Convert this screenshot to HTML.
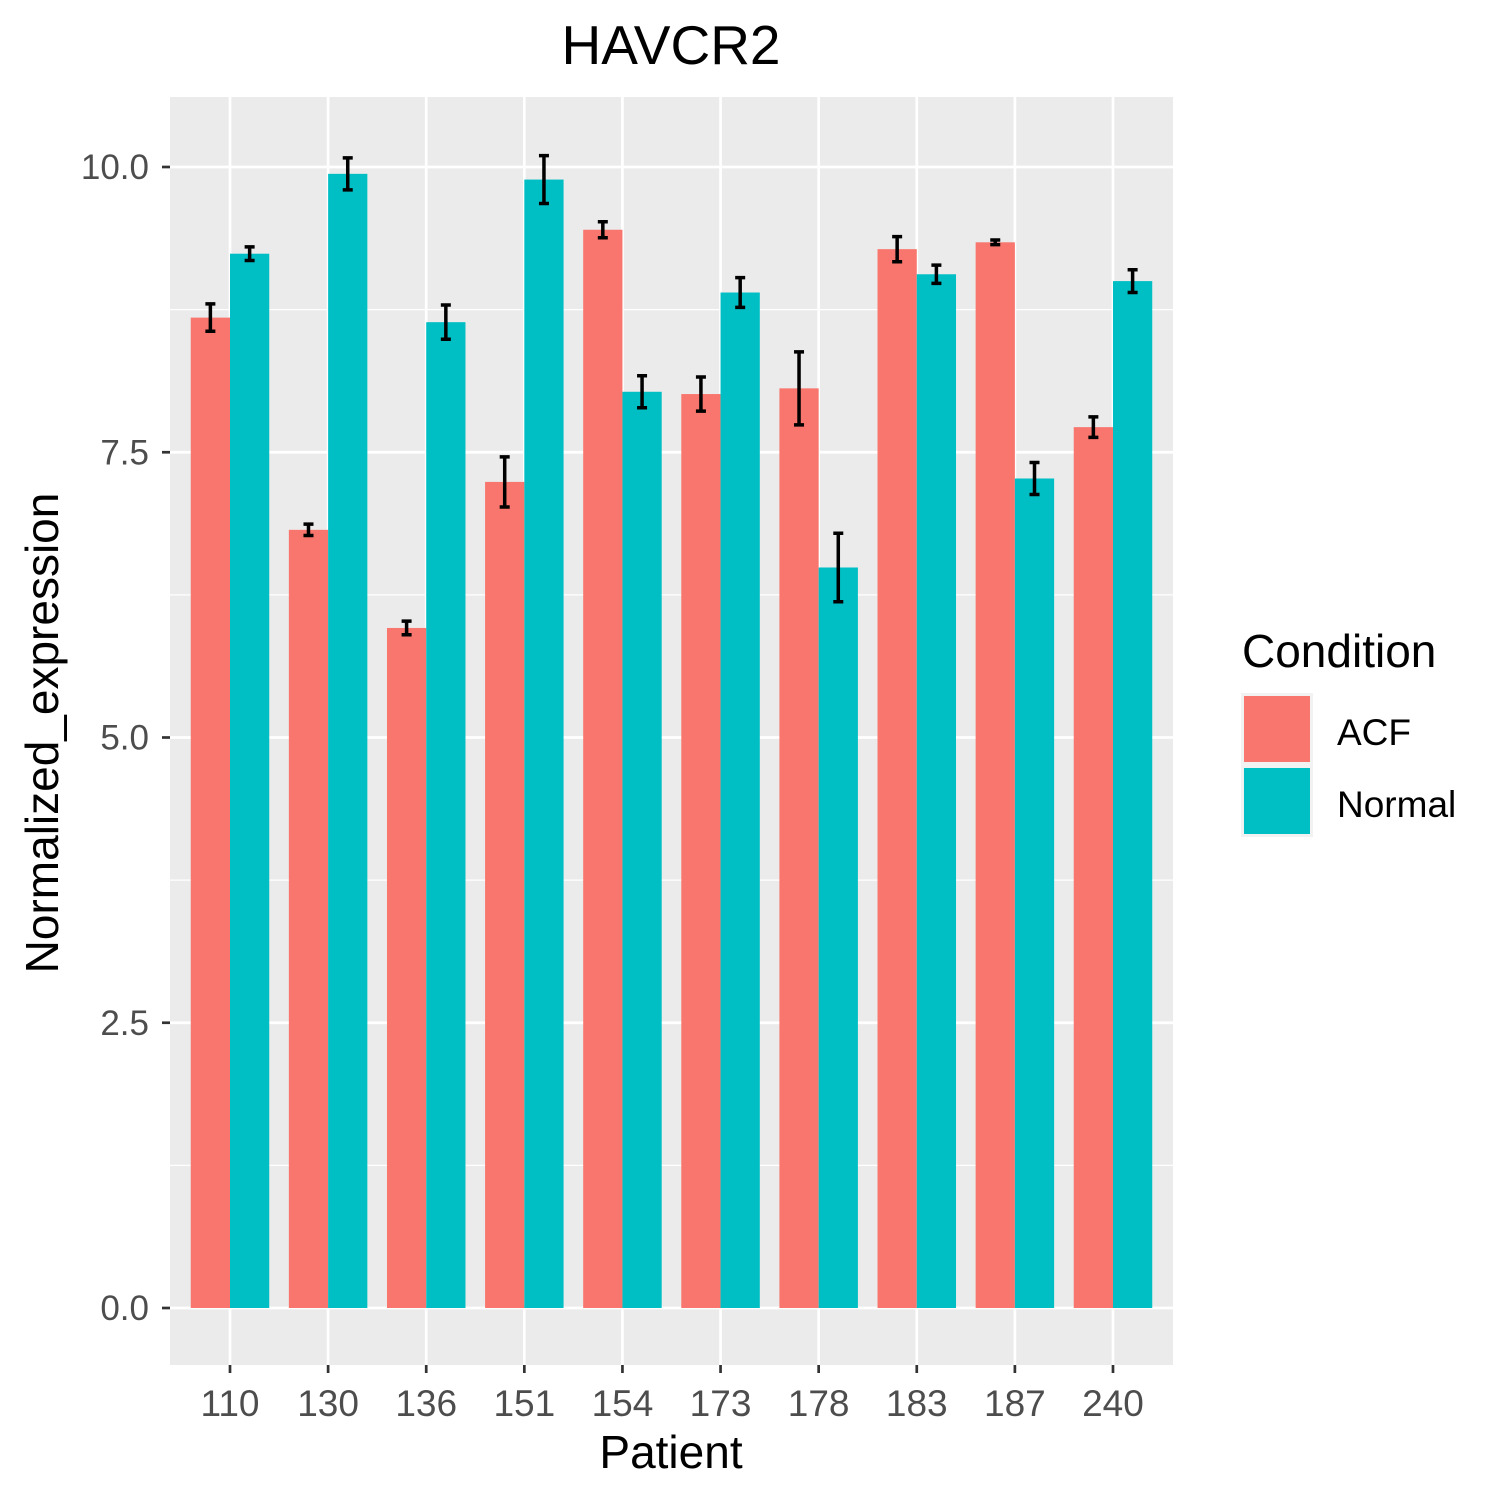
<!DOCTYPE html>
<html><head><meta charset="utf-8"><style>body{margin:0;background:#fff}svg{display:block}text{font-family:"Liberation Sans",Arial,sans-serif}</style></head>
<body>
<svg id="c" width="1500" height="1500" xmlns="http://www.w3.org/2000/svg">
<text x="671" y="64" font-size="55" text-anchor="middle">HAVCR2</text>
<rect x="170" y="97" width="1003" height="1268" fill="#ebebeb"/>
<g id="grid"></g><g id="bars"></g><g id="axes"></g>
<text x="671" y="1468" font-size="46" text-anchor="middle">Patient</text>
<text transform="translate(58,733) rotate(-90)" font-size="46" text-anchor="middle">Normalized_expression</text>
<g>
<text x="1242" y="667" font-size="46">Condition</text>
<rect x="1241" y="693" width="72" height="144" fill="#f2f2f2"/>
<rect x="1244" y="696" width="66" height="66" fill="#F8766D"/>
<rect x="1244" y="768" width="66" height="66" fill="#00BFC4"/>
<text x="1337" y="745" font-size="37">ACF</text>
<text x="1337" y="817" font-size="37">Normal</text>
</g>
</svg>
<script>
const categories=["110","130","136","151","154","173","178","183","187","240"];
const acfValues=[8.68,6.82,5.96,7.24,9.45,8.01,8.06,9.28,9.34,7.72];
const acfErr=[0.12,0.05,0.06,0.22,0.07,0.15,0.32,0.11,0.02,0.09];
const normalValues=[9.24,9.94,8.64,9.89,8.03,8.90,6.49,9.06,7.27,9.00];
const normalErr=[0.06,0.14,0.15,0.21,0.14,0.13,0.30,0.08,0.14,0.10];
const yTicks=[0,2.5,5,7.5,10];
const yTickLabels=["0.0","2.5","5.0","7.5","10.0"];
const NS="http://www.w3.org/2000/svg";
const y=v=>1308-v*114.1;
const x=i=>230+i*98.11;
const bw=39.25;
function mk(p,t,a){const e=document.createElementNS(NS,t);for(const k in a)e.setAttribute(k,a[k]);p.appendChild(e);return e;}
const G=document.getElementById('grid'),B=document.getElementById('bars'),A=document.getElementById('axes');
yTicks.forEach((t,i)=>{
 if(i<yTicks.length-1){const m=mk(G,'line',{x1:170,x2:1173,y1:y(t+1.25),y2:y(t+1.25),stroke:'#fff','stroke-width':1.3});
 
 }
 const l=mk(G,'line',{x1:170,x2:1173,y1:y(t),y2:y(t),stroke:'#fff','stroke-width':2.7});
 
 
 const k=mk(A,'line',{x1:162,x2:170,y1:y(t),y2:y(t),stroke:'#333','stroke-width':2.7});
 
 
 const tx=mk(A,'text',{x:149,y:y(t)+12,'font-size':35,fill:'#4d4d4d','text-anchor':'end'});
 tx.textContent=yTickLabels[i];
 
 
});
categories.forEach((c,i)=>{
 const g=mk(G,'line',{x1:x(i),x2:x(i),y1:97,y2:1365,stroke:'#fff','stroke-width':2.7});
 
 
 [[acfValues,acfErr,'#F8766D',-1,'acf'],[normalValues,normalErr,'#00BFC4',0,'normal']].forEach(([v,e,col,o,n])=>{
  const bx=x(i)+o*bw;
  const r=mk(B,'rect',{x:bx,y:y(v[i]),width:bw,height:y(0)-y(v[i]),fill:col});
  
  
  const cx=bx+bw/2,t=y(v[i]+e[i]),b=y(v[i]-e[i]);
  const eb=mk(B,'path',{d:`M${cx-5},${t}H${cx+5}M${cx},${t}V${b}M${cx-5},${b}H${cx+5}`,stroke:'#000','stroke-width':3.5,fill:'none'});
  
  
 });
 const k=mk(A,'line',{x1:x(i),x2:x(i),y1:1365,y2:1373,stroke:'#333','stroke-width':2.7});
 
 
 const tx=mk(A,'text',{x:x(i),y:1416,'font-size':37,fill:'#4d4d4d','text-anchor':'middle'});
 tx.textContent=c;
 
 
});
</script>
</body></html>
